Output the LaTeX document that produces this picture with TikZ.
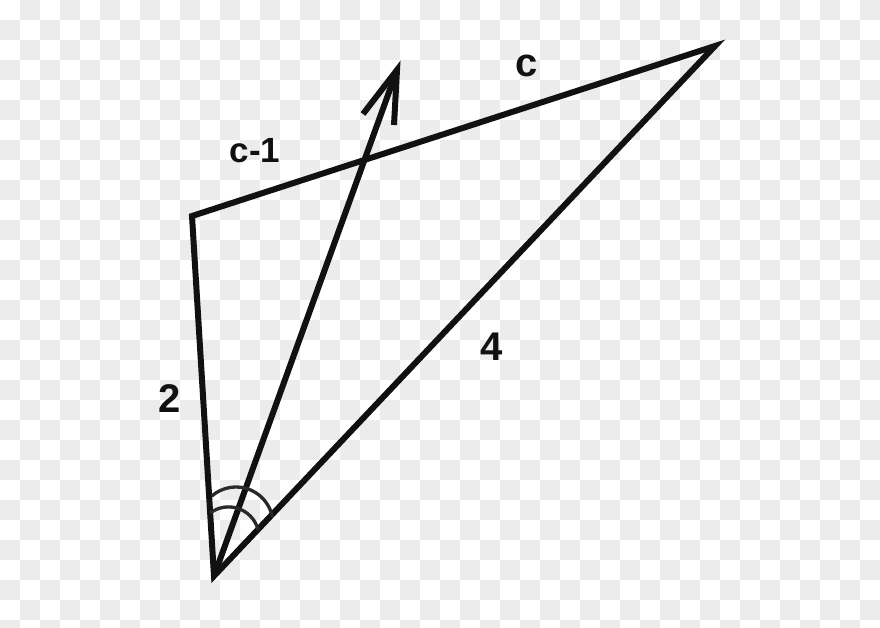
\documentclass[tikz,border=0pt]{standalone}
\usepackage{fontspec}
\setmainfont{Liberation Sans}
\definecolor{checker}{HTML}{ECECEC}
\definecolor{ink}{HTML}{111111}
\begin{document}
\begin{tikzpicture}[x=1pt,y=-1pt,
  side/.style={draw=ink,line width=6pt,line join=miter},
  anglearc/.style={draw=ink!90,line width=3.3pt},
  lbl/.style={font=\bfseries\fontsize{40}{44}\selectfont,text=ink,inner sep=0pt},
  smalllbl/.style={font=\bfseries\fontsize{35}{40}\selectfont,text=ink,inner sep=0pt}]
\useasboundingbox (0,0) rectangle (880,627);
\fill[white] (0,0) rectangle (880,627);
\begin{scope}
\clip (0,0) rectangle (880,627);
\foreach \i in {0,...,43}{
  \foreach \j in {0,...,31}{
    \pgfmathtruncatemacro{\cellpar}{mod(\i+\j,2)}
    \ifnum\cellpar=1
      \fill[checker] (\i*20,\j*20) rectangle ++(20,20);
    \fi
  }
}
\end{scope}
\coordinate (v) at (214,576);
\coordinate (l) at (192,216);
\coordinate (r) at (715,46);
\coordinate (tip) at (397,70);
\coordinate (armL) at (363,114);
\coordinate (armR) at (394,125);
\coordinate (co) at (236,524);
\coordinate (ci) at (228.5,537.5);
\draw[side] (v) -- (l) -- (r) -- cycle;
\draw[side] (v) -- (tip);
\draw[side] (armL) -- (tip) -- (armR);
\draw[anglearc] (co) ++(11:37pt) arc[start angle=11,end angle=131,radius=37pt];
\draw[anglearc] (ci) ++(14:30.6pt) arc[start angle=14,end angle=127,radius=30.6pt];
\node[smalllbl] (lc1) at (255,151) {c-1};
\node[lbl] (lc) at (527,66) {c};
\node[lbl] (l2) at (169.5,399) {2};
\node[lbl] (l4) at (492,347) {4};
\end{tikzpicture}
\end{document}
